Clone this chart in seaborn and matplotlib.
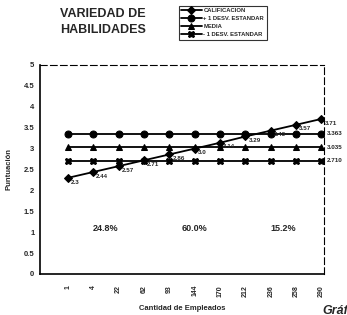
import matplotlib
matplotlib.use("Agg")
import matplotlib.pyplot as plt
import seaborn as sns
import pandas as pd
import numpy as np

categories = ["1", "4", "22", "62", "93", "144", "170", "212", "236", "258", "290"]
calificacion = [2.30, 2.44, 2.58, 2.72, 2.86, 3.00, 3.14, 3.29, 3.43, 3.57, 3.71]
calif_labels = ["2.3", "2.44", "2.57", "2.71", "2.86", "3.0", "3.14", "3.29", "3.43", "3.57", "3.71"]
mas_desv = [3.36] * 11
media = [3.03] * 11
menos_desv = [2.71] * 11
end_labels = ["3.363", "3.035", "2.710"]
percents = ["24.8%", "60.0%", "15.2%"]
percent_pos = [1.5, 5.0, 8.5]

sns.set_theme(style="white")
plt.rcParams['font.family'] = ['Liberation Sans', 'DejaVu Sans']

fig = plt.figure(figsize=(3.47, 3.15), dpi=100)
ax = fig.add_axes([40/347, 1-274/315, 284/347, 209/315])

x = np.arange(len(categories))
series = [
    ("CALIFICACION", calificacion, "D", 4),
    ("+ 1 DESV. ESTANDAR", mas_desv, "o", 5),
    ("MEDIA", media, "^", 4.5),
    ("- 1 DESV. ESTANDAR", menos_desv, "X", 5),
]
for name, vals, mk, ms in series:
    df = pd.DataFrame({"x": x, "y": vals})
    sns.lineplot(data=df, x="x", y="y", ax=ax, color="black", marker=mk,
                 markersize=ms, linewidth=1.3, markeredgecolor="black",
                 label=name, legend=False)

for xi, v, lab in zip(x, calificacion, calif_labels):
    ax.text(xi + 0.12, v - 0.1, lab, fontsize=4.5, fontweight="bold", va="center", ha="left")

for v, lab in zip([mas_desv[-1], media[-1], menos_desv[-1]], end_labels):
    ax.text(x[-1] + 0.2, v, lab, fontsize=4.5, fontweight="bold", va="center", ha="left", clip_on=False)

for p, t in zip(percent_pos, percents):
    ax.text(p, 1.1, t, fontsize=6.5, fontweight="bold", ha="center", va="center")

ax.set_xlim(-1.1, 10.1)
ax.set_ylim(0, 5)
ax.set_yticks(np.arange(0, 5.01, 0.5))
ax.set_yticklabels(["0", "0.5", "1", "1.5", "2", "2.5", "3", "3.5", "4", "4.5", "5"],
                   fontsize=5.5, fontweight="bold")
ax.set_xticks(x)
ax.set_xticklabels(categories, rotation=90, fontsize=5, fontweight="bold")
ax.tick_params(axis="both", direction="inout", length=4, width=0.8, color="black", pad=2)
ax.tick_params(axis="x", pad=6)

for s in ["left", "bottom"]:
    ax.spines[s].set_color("black")
    ax.spines[s].set_linewidth(1.2)
for s in ["top", "right"]:
    ax.spines[s].set_color("black")
    ax.spines[s].set_linewidth(0.8)
    ax.spines[s].set_linestyle((0, (6, 3)))

ax.set_xlabel("Cantidad de Empleados", fontsize=5.5, fontweight="bold", labelpad=6)
ax.set_ylabel("Puntuación", fontsize=5.5, fontweight="bold", labelpad=8)

fig.text(60/347, 1-22/315, "VARIEDAD DE\nHABILIDADES", fontsize=9, fontweight="bold",
         ha="left", va="center", linespacing=1.4)

handles, labels = ax.get_legend_handles_labels()
leg = fig.legend(handles, labels, loc="upper left", bbox_to_anchor=(176/347, 1-3/315),
                 fontsize=4.2, frameon=True, handlelength=3.5, borderpad=0.4,
                 labelspacing=0.5, handletextpad=0.3, fancybox=False)
leg.get_frame().set_edgecolor("black")
leg.get_frame().set_linewidth(0.8)
for t in leg.get_texts():
    t.set_fontweight("bold")

fig.text(322/347, 1-311/315, "Gráfica", fontsize=9, fontweight="bold", style="italic",
         ha="left", va="center")

fig.savefig("out.png", dpi=100)
